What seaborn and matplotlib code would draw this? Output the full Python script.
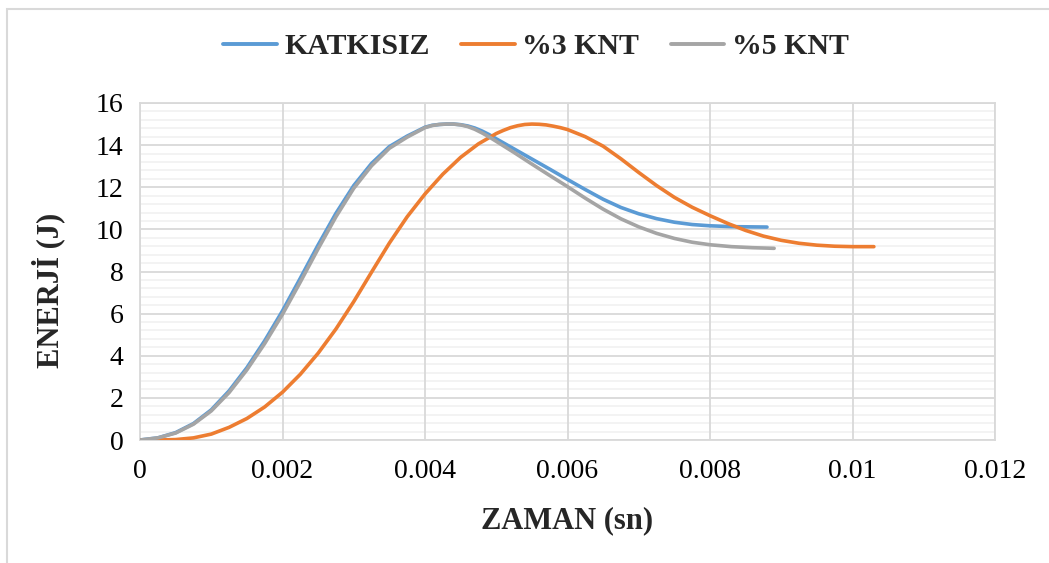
import numpy as np
import pandas as pd
import seaborn as sns
import matplotlib.pyplot as plt
from matplotlib.patches import Rectangle

# Time (s) and energy (J) for each specimen
t_katkisiz = [0, 0.00025, 0.0005, 0.00075, 0.001, 0.00125, 0.0015, 0.00175,
              0.002, 0.00225, 0.0025, 0.00275, 0.003, 0.00325, 0.0035, 0.00375,
              0.0039, 0.004, 0.0041, 0.0042, 0.0043, 0.0044, 0.0045, 0.0046,
              0.0047, 0.0048, 0.0049, 0.005, 0.00525, 0.0055, 0.00575, 0.006,
              0.00625, 0.0065, 0.00675, 0.007, 0.00725, 0.0075, 0.00775, 0.008,
              0.0083, 0.0088]
e_katkisiz = [0, 0.1, 0.35, 0.78, 1.43, 2.33, 3.43, 4.71,
              6.13, 7.68, 9.26, 10.76, 12.08, 13.13, 13.93, 14.43,
              14.68, 14.85, 14.94, 14.98, 15.0, 15.0, 14.97, 14.91,
              14.81, 14.67, 14.5, 14.3, 13.82, 13.34, 12.86, 12.37,
              11.89, 11.43, 11.04, 10.74, 10.51, 10.34, 10.23, 10.17,
              10.13, 10.11]

t_knt3 = [0, 0.00025, 0.0005, 0.00075, 0.001, 0.00125, 0.0015, 0.00175, 0.002,
          0.00225, 0.0025, 0.00275, 0.003, 0.00325, 0.0035, 0.00375, 0.004,
          0.00425, 0.0045, 0.00475, 0.005, 0.0051, 0.0052, 0.0053, 0.0054,
          0.0055, 0.0056, 0.0057, 0.0058, 0.0059, 0.006, 0.00625, 0.0065,
          0.00675, 0.007, 0.00725, 0.0075, 0.00775, 0.008, 0.00825, 0.0085,
          0.00875, 0.009, 0.00925, 0.0095, 0.00975, 0.01, 0.0103]
e_knt3 = [0, 0, 0.02, 0.1, 0.28, 0.6, 1.02, 1.57, 2.27,
          3.12, 4.12, 5.27, 6.57, 7.97, 9.35, 10.6, 11.68,
          12.62, 13.42, 14.06, 14.55, 14.7, 14.83, 14.92, 14.98,
          15.0, 14.99, 14.96, 14.9, 14.83, 14.74, 14.4, 13.95,
          13.35, 12.7, 12.08, 11.52, 11.05, 10.65, 10.28, 9.95,
          9.68, 9.48, 9.34, 9.25, 9.2, 9.18, 9.18]

t_knt5 = [0, 0.00025, 0.0005, 0.00075, 0.001, 0.00125, 0.0015, 0.00175,
          0.002, 0.00225, 0.0025, 0.00275, 0.003, 0.00325, 0.0035, 0.00375,
          0.0039, 0.004, 0.0041, 0.0042, 0.0043, 0.0044, 0.0045, 0.0046,
          0.0047, 0.0048, 0.0049, 0.005, 0.00525, 0.0055, 0.00575, 0.006,
          0.00625, 0.0065, 0.00675, 0.007, 0.00725, 0.0075, 0.00775, 0.008,
          0.0083, 0.0086, 0.0089]
e_knt5 = [0, 0.1, 0.33, 0.75, 1.38, 2.25, 3.33, 4.58,
          5.97, 7.5, 9.08, 10.6, 11.95, 13.02, 13.85, 14.38,
          14.65, 14.83, 14.93, 14.98, 15.0, 15.0, 14.96, 14.88,
          14.75, 14.58, 14.39, 14.18, 13.65, 13.1, 12.56, 12.03,
          11.48, 10.96, 10.5, 10.12, 9.81, 9.57, 9.39, 9.27,
          9.18, 9.13, 9.1]

series_names = ["KATKISIZ", "%3 KNT", "%5 KNT"]
series_colors = ["#5B9BD5", "#ED7D31", "#A5A5A5"]

x_ticks = [0, 0.002, 0.004, 0.006, 0.008, 0.01, 0.012]
x_tick_labels = ["0", "0.002", "0.004", "0.006", "0.008", "0.01", "0.012"]
y_ticks = [0, 2, 4, 6, 8, 10, 12, 14, 16]
y_minor_step = 0.4

frames = []
for name, t, e in zip(series_names,
                      [t_katkisiz, t_knt3, t_knt5],
                      [e_katkisiz, e_knt3, e_knt5]):
    frames.append(pd.DataFrame({"ZAMAN": t, "ENERJI": e, "Seri": name}))
df = pd.concat(frames, ignore_index=True)

sns.set_theme(style="white")
plt.rcParams["font.family"] = ["Liberation Serif", "DejaVu Serif"]

fig = plt.figure(figsize=(10.49, 5.63), dpi=100)
ax = fig.add_axes([140 / 1049, 1 - 440 / 563, 855 / 1049, 337 / 563])

# outer chart-area frame
fig.patches.append(Rectangle((7 / 1049, -0.05), 1.1, 1 - 9 / 563 + 0.05,
                             transform=fig.transFigure, fill=False,
                             edgecolor="#D9D9D9", linewidth=1.5, zorder=0))

# gridlines: faint minor rows underneath, major rows/columns on top of them
minor_rows = [v for v in np.arange(0, y_ticks[-1] + 1e-9, y_minor_step)
              if all(abs(v - m) > 1e-6 for m in y_ticks)]
for v in minor_rows:
    ax.axhline(v, color="#F2F2F2", linewidth=1.3, zorder=0.2)
for v in y_ticks:
    ax.axhline(v, color="#D9D9D9", linewidth=1.3, zorder=0.5)
for v in x_ticks:
    ax.axvline(v, color="#D9D9D9", linewidth=1.3, zorder=0.5)

sns.lineplot(data=df, x="ZAMAN", y="ENERJI", hue="Seri", hue_order=series_names,
             palette=series_colors, sort=False, estimator=None, linewidth=2.6,
             ax=ax, legend=True, zorder=3)
for line in ax.get_lines():
    line.set_solid_joinstyle("round")
    line.set_solid_capstyle("round")

ax.set_xlim(0, 0.012)
ax.set_ylim(0, 16)
ax.set_xticks(x_ticks)
ax.set_xticklabels(x_tick_labels)
ax.set_yticks(y_ticks)
ax.grid(False)
for side in ["left", "bottom", "right", "top"]:
    ax.spines[side].set_visible(True)
    ax.spines[side].set_color("#D9D9D9")
    ax.spines[side].set_linewidth(1.3)

ax.tick_params(axis="both", which="both", length=0, labelsize=20, colors="black")
ax.tick_params(axis="x", pad=14)
ax.tick_params(axis="y", pad=12)

ax.set_xlabel("")
ax.set_ylabel("")
fig.text(567 / 1049, 1 - 521 / 563, "ZAMAN (sn)", ha="center", va="center",
         fontsize=22, fontweight="bold")
fig.text(48 / 1049, 1 - 290 / 563, "ENERJİ (J)", ha="center", va="center",
         rotation=90, fontsize=22, fontweight="bold")

handles, labels = ax.get_legend_handles_labels()
leg = ax.legend(handles, labels, loc="center",
                bbox_to_anchor=(536 / 1049, 1 - 47 / 563),
                bbox_transform=fig.transFigure, ncol=3, frameon=False,
                prop={"size": 21.5, "weight": "bold"}, handlelength=1.8,
                handletextpad=0.25, columnspacing=1.05)
for h in leg.get_lines():
    h.set_linewidth(2.8)

fig.savefig("out.png", dpi=100, facecolor="white")
